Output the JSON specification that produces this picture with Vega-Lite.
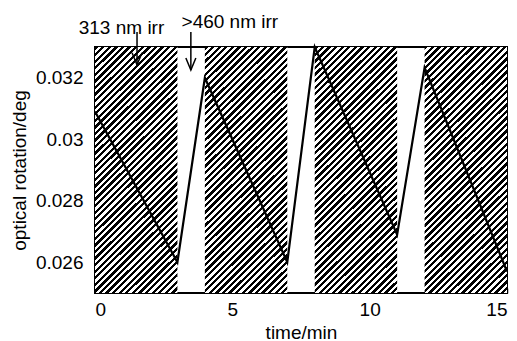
{
  "$schema": "https://vega.github.io/schema/vega-lite/v6.json",
  "width": 412,
  "height": 246,
  "autosize": {"type": "none"},
  "padding": {"left": 95, "top": 47, "right": 10, "bottom": 48},
  "config": {
    "font": "Liberation Sans",
    "view": {"stroke": "#000", "strokeWidth": 2},
    "axis": {
      "grid": false,
      "domain": false,
      "tickColor": "#000",
      "tickSize": -5,
      "tickWidth": 1.5,
      "labelFontSize": 19,
      "labelColor": "#000",
      "titleFontSize": 19,
      "titleFontWeight": "normal",
      "titleColor": "#000"
    }
  },
  "datasets": {
    "irr": [
      {"start": 0, "end": 3},
      {"start": 4, "end": 7},
      {"start": 8, "end": 11},
      {"start": 12, "end": 15}
    ],
    "rot": [
      {"t": 0, "v": 0.0309},
      {"t": 3, "v": 0.0260},
      {"t": 4, "v": 0.0320},
      {"t": 7, "v": 0.0260},
      {"t": 8, "v": 0.0330},
      {"t": 11, "v": 0.0269},
      {"t": 12, "v": 0.03233},
      {"t": 15, "v": 0.0257}
    ],
    "arrows": [
      {"t": 1.53, "v1": 0.03349, "v2": 0.03242},
      {"t": 3.49, "v1": 0.03349, "v2": 0.03225}
    ],
    "labels": [
      {"t": 0.965, "v": 0.03362, "label": "313 nm irr"},
      {"t": 4.91, "v": 0.03381, "label": ">460 nm irr"}
    ]
  },
  "layer": [
    {
      "data": {"name": "irr"},
      "mark": {
        "type": "rect",
        "fill": {
          "gradient": "linear",
          "x1": 0, "y1": 0, "x2": 0.4, "y2": 1.2,
          "stops": [
            {"offset":0,"color":"#000"},{"offset":0.01,"color":"#000"},{"offset":0.01,"color":"#fff"},{"offset":0.02,"color":"#fff"},
            {"offset":0.02,"color":"#000"},{"offset":0.03,"color":"#000"},{"offset":0.03,"color":"#fff"},{"offset":0.04,"color":"#fff"},
            {"offset":0.04,"color":"#000"},{"offset":0.05,"color":"#000"},{"offset":0.05,"color":"#fff"},{"offset":0.06,"color":"#fff"},
            {"offset":0.06,"color":"#000"},{"offset":0.07,"color":"#000"},{"offset":0.07,"color":"#fff"},{"offset":0.08,"color":"#fff"},
            {"offset":0.08,"color":"#000"},{"offset":0.09,"color":"#000"},{"offset":0.09,"color":"#fff"},{"offset":0.10,"color":"#fff"},
            {"offset":0.10,"color":"#000"},{"offset":0.11,"color":"#000"},{"offset":0.11,"color":"#fff"},{"offset":0.12,"color":"#fff"},
            {"offset":0.12,"color":"#000"},{"offset":0.13,"color":"#000"},{"offset":0.13,"color":"#fff"},{"offset":0.14,"color":"#fff"},
            {"offset":0.14,"color":"#000"},{"offset":0.15,"color":"#000"},{"offset":0.15,"color":"#fff"},{"offset":0.16,"color":"#fff"},
            {"offset":0.16,"color":"#000"},{"offset":0.17,"color":"#000"},{"offset":0.17,"color":"#fff"},{"offset":0.18,"color":"#fff"},
            {"offset":0.18,"color":"#000"},{"offset":0.19,"color":"#000"},{"offset":0.19,"color":"#fff"},{"offset":0.20,"color":"#fff"},
            {"offset":0.20,"color":"#000"},{"offset":0.21,"color":"#000"},{"offset":0.21,"color":"#fff"},{"offset":0.22,"color":"#fff"},
            {"offset":0.22,"color":"#000"},{"offset":0.23,"color":"#000"},{"offset":0.23,"color":"#fff"},{"offset":0.24,"color":"#fff"},
            {"offset":0.24,"color":"#000"},{"offset":0.25,"color":"#000"},{"offset":0.25,"color":"#fff"},{"offset":0.26,"color":"#fff"},
            {"offset":0.26,"color":"#000"},{"offset":0.27,"color":"#000"},{"offset":0.27,"color":"#fff"},{"offset":0.28,"color":"#fff"},
            {"offset":0.28,"color":"#000"},{"offset":0.29,"color":"#000"},{"offset":0.29,"color":"#fff"},{"offset":0.30,"color":"#fff"},
            {"offset":0.30,"color":"#000"},{"offset":0.31,"color":"#000"},{"offset":0.31,"color":"#fff"},{"offset":0.32,"color":"#fff"},
            {"offset":0.32,"color":"#000"},{"offset":0.33,"color":"#000"},{"offset":0.33,"color":"#fff"},{"offset":0.34,"color":"#fff"},
            {"offset":0.34,"color":"#000"},{"offset":0.35,"color":"#000"},{"offset":0.35,"color":"#fff"},{"offset":0.36,"color":"#fff"},
            {"offset":0.36,"color":"#000"},{"offset":0.37,"color":"#000"},{"offset":0.37,"color":"#fff"},{"offset":0.38,"color":"#fff"},
            {"offset":0.38,"color":"#000"},{"offset":0.39,"color":"#000"},{"offset":0.39,"color":"#fff"},{"offset":0.40,"color":"#fff"},
            {"offset":0.40,"color":"#000"},{"offset":0.41,"color":"#000"},{"offset":0.41,"color":"#fff"},{"offset":0.42,"color":"#fff"},
            {"offset":0.42,"color":"#000"},{"offset":0.43,"color":"#000"},{"offset":0.43,"color":"#fff"},{"offset":0.44,"color":"#fff"},
            {"offset":0.44,"color":"#000"},{"offset":0.45,"color":"#000"},{"offset":0.45,"color":"#fff"},{"offset":0.46,"color":"#fff"},
            {"offset":0.46,"color":"#000"},{"offset":0.47,"color":"#000"},{"offset":0.47,"color":"#fff"},{"offset":0.48,"color":"#fff"},
            {"offset":0.48,"color":"#000"},{"offset":0.49,"color":"#000"},{"offset":0.49,"color":"#fff"},{"offset":0.50,"color":"#fff"},
            {"offset":0.50,"color":"#000"},{"offset":0.51,"color":"#000"},{"offset":0.51,"color":"#fff"},{"offset":0.52,"color":"#fff"},
            {"offset":0.52,"color":"#000"},{"offset":0.53,"color":"#000"},{"offset":0.53,"color":"#fff"},{"offset":0.54,"color":"#fff"},
            {"offset":0.54,"color":"#000"},{"offset":0.55,"color":"#000"},{"offset":0.55,"color":"#fff"},{"offset":0.56,"color":"#fff"},
            {"offset":0.56,"color":"#000"},{"offset":0.57,"color":"#000"},{"offset":0.57,"color":"#fff"},{"offset":0.58,"color":"#fff"},
            {"offset":0.58,"color":"#000"},{"offset":0.59,"color":"#000"},{"offset":0.59,"color":"#fff"},{"offset":0.60,"color":"#fff"},
            {"offset":0.60,"color":"#000"},{"offset":0.61,"color":"#000"},{"offset":0.61,"color":"#fff"},{"offset":0.62,"color":"#fff"},
            {"offset":0.62,"color":"#000"},{"offset":0.63,"color":"#000"},{"offset":0.63,"color":"#fff"},{"offset":0.64,"color":"#fff"},
            {"offset":0.64,"color":"#000"},{"offset":0.65,"color":"#000"},{"offset":0.65,"color":"#fff"},{"offset":0.66,"color":"#fff"},
            {"offset":0.66,"color":"#000"},{"offset":0.67,"color":"#000"},{"offset":0.67,"color":"#fff"},{"offset":0.68,"color":"#fff"},
            {"offset":0.68,"color":"#000"},{"offset":0.69,"color":"#000"},{"offset":0.69,"color":"#fff"},{"offset":0.70,"color":"#fff"},
            {"offset":0.70,"color":"#000"},{"offset":0.71,"color":"#000"},{"offset":0.71,"color":"#fff"},{"offset":0.72,"color":"#fff"},
            {"offset":0.72,"color":"#000"},{"offset":0.73,"color":"#000"},{"offset":0.73,"color":"#fff"},{"offset":0.74,"color":"#fff"},
            {"offset":0.74,"color":"#000"},{"offset":0.75,"color":"#000"},{"offset":0.75,"color":"#fff"},{"offset":0.76,"color":"#fff"},
            {"offset":0.76,"color":"#000"},{"offset":0.77,"color":"#000"},{"offset":0.77,"color":"#fff"},{"offset":0.78,"color":"#fff"},
            {"offset":0.78,"color":"#000"},{"offset":0.79,"color":"#000"},{"offset":0.79,"color":"#fff"},{"offset":0.80,"color":"#fff"},
            {"offset":0.80,"color":"#000"},{"offset":0.81,"color":"#000"},{"offset":0.81,"color":"#fff"},{"offset":0.82,"color":"#fff"},
            {"offset":0.82,"color":"#000"},{"offset":0.83,"color":"#000"},{"offset":0.83,"color":"#fff"},{"offset":0.84,"color":"#fff"},
            {"offset":0.84,"color":"#000"},{"offset":0.85,"color":"#000"},{"offset":0.85,"color":"#fff"},{"offset":0.86,"color":"#fff"},
            {"offset":0.86,"color":"#000"},{"offset":0.87,"color":"#000"},{"offset":0.87,"color":"#fff"},{"offset":0.88,"color":"#fff"},
            {"offset":0.88,"color":"#000"},{"offset":0.89,"color":"#000"},{"offset":0.89,"color":"#fff"},{"offset":0.90,"color":"#fff"},
            {"offset":0.90,"color":"#000"},{"offset":0.91,"color":"#000"},{"offset":0.91,"color":"#fff"},{"offset":0.92,"color":"#fff"},
            {"offset":0.92,"color":"#000"},{"offset":0.93,"color":"#000"},{"offset":0.93,"color":"#fff"},{"offset":0.94,"color":"#fff"},
            {"offset":0.94,"color":"#000"},{"offset":0.95,"color":"#000"},{"offset":0.95,"color":"#fff"},{"offset":0.96,"color":"#fff"},
            {"offset":0.96,"color":"#000"},{"offset":0.97,"color":"#000"},{"offset":0.97,"color":"#fff"},{"offset":0.98,"color":"#fff"},
            {"offset":0.98,"color":"#000"},{"offset":0.99,"color":"#000"},{"offset":0.99,"color":"#fff"},{"offset":1,"color":"#fff"}
          ]
        }
      },
      "encoding": {
        "x": {"field": "start", "type": "quantitative", "scale": {"domain": [0, 15], "nice": false}, "title": "time/min", "axis": {"values": [0, 5, 10, 15], "labelPadding": 12, "titlePadding": 4}},
        "x2": {"field": "end"}
      }
    },
    {
      "data": {"name": "rot"},
      "mark": {"type": "line", "color": "#000", "strokeWidth": 2.2},
      "encoding": {
        "x": {"field": "t", "type": "quantitative", "scale": {"domain": [0, 15], "nice": false}, "title": "time/min"},
        "y": {"field": "v", "type": "quantitative", "scale": {"domain": [0.025, 0.033], "nice": false, "zero": false}, "title": "optical rotation/deg", "axis": {"values": [0.026, 0.028, 0.03, 0.032], "format": ".3~f", "labelPadding": 17, "titlePadding": 6}}
      }
    },
    {
      "data": {"name": "arrows"},
      "mark": {"type": "rule", "color": "#000", "strokeWidth": 1.5},
      "encoding": {
        "x": {"field": "t", "type": "quantitative", "scale": {"domain": [0, 15], "nice": false}, "title": "time/min"},
        "y": {"field": "v1", "type": "quantitative", "scale": {"domain": [0.025, 0.033], "nice": false, "zero": false}, "title": "optical rotation/deg"},
        "y2": {"field": "v2"}
      }
    },
    {
      "data": {"name": "arrows"},
      "mark": {"type": "point", "shape": "M-0.5,-1.2L0,0L0.5,-1.2", "filled": false, "stroke": "#000", "strokeWidth": 1.5, "size": 400, "opacity": 1},
      "encoding": {
        "x": {"field": "t", "type": "quantitative", "scale": {"domain": [0, 15], "nice": false}, "title": "time/min"},
        "y": {"field": "v2", "type": "quantitative", "scale": {"domain": [0.025, 0.033], "nice": false, "zero": false}, "title": "optical rotation/deg"}
      }
    },
    {
      "data": {"name": "labels"},
      "mark": {"type": "text", "fontSize": 19, "color": "#000", "align": "center", "baseline": "middle"},
      "encoding": {
        "x": {"field": "t", "type": "quantitative", "scale": {"domain": [0, 15], "nice": false}, "title": "time/min"},
        "y": {"field": "v", "type": "quantitative", "scale": {"domain": [0.025, 0.033], "nice": false, "zero": false}, "title": "optical rotation/deg"},
        "text": {"field": "label"}
      }
    }
  ]
}
